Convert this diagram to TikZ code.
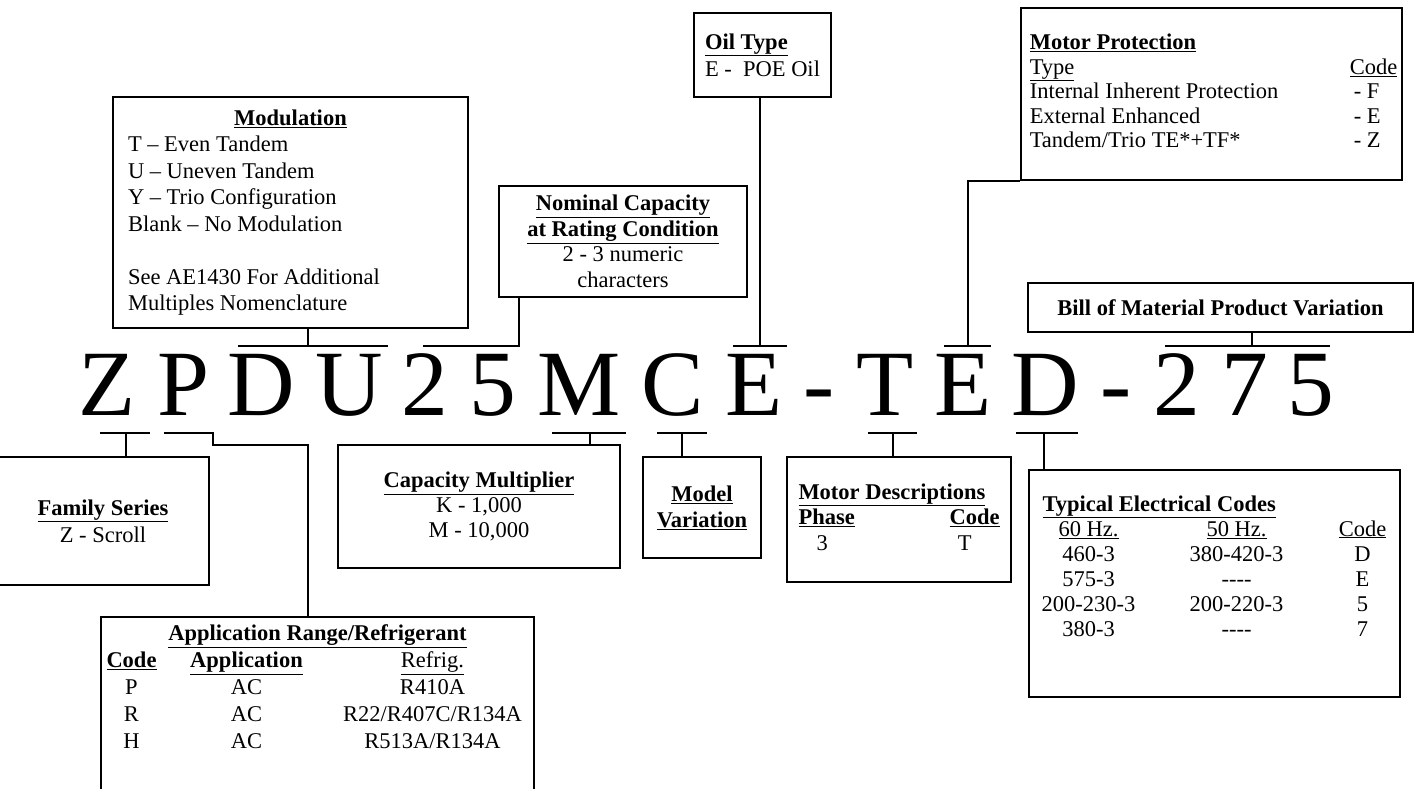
\documentclass[tikz,border=0pt]{standalone}
\usepackage{fontspec}
\setmainfont{Liberation Serif}
\usepackage{array}
\usetikzlibrary{calc}

\newcolumntype{C}[1]{>{\centering\arraybackslash}p{#1}}
\newcommand{\hd}[1]{\textbf{\underline{#1}}}
\newcommand{\und}[1]{\underline{#1}}

\tikzset{
	box/.style={draw,line width=1.6pt,inner sep=0pt,
		font=\fontsize{22.5}{26}\selectfont},
	bigchar/.style={inner sep=0pt,anchor=base,
		font=\fontsize{93.5}{100}\selectfont},
	link/.style={line width=1.5pt}
}

\begin{document}
\begin{tikzpicture}[x=1pt,y=-1pt]
	
	\useasboundingbox (0,0) rectangle (1417,789);
	
	% --- model number ---
	\foreach \ch/\xc [count=\i] in {Z/107,P/183,D/261,U/349,2/425,5/493,M/579,C/673,
		E/754,-/819,T/885,E/963,D/1045,-/1116,2/1177,7/1245,5/1311}
	\node[bigchar] (c\i) at (\xc,415) {\ch};
	
	% --- boxes above ---
	\node[box,minimum width=355pt,minimum height=231pt,text width=325pt,align=flush left,
	font=\fontsize{22.5}{26.5}\selectfont] (modul) at (290.5,212.5)
	{\makebox[325pt]{\hd{Modulation}}\\
		T – Even Tandem\\
		U – Uneven Tandem\\
		Y – Trio Configuration\\
		Blank – No Modulation\\[26.5pt]
		See AE1430 For Additional\\
		Multiples Nomenclature};
	
	\node[box,minimum width=248pt,minimum height=111pt,align=center,
	font=\fontsize{22.5}{25.5}\selectfont] (nomcap) at (623,241.5)
	{\hd{Nominal Capacity}\\ \hd{at Rating Condition}\\ 2 - 3 numeric\\ characters};
	
	\node[box,minimum width=137pt,minimum height=84pt,align=flush left,
	font=\fontsize{22.5}{27}\selectfont] (oil) at (762.5,55)
	{\hd{Oil Type}\\ E -\ \ POE Oil};
	
	\node[box,minimum width=381pt,minimum height=172pt,
	font=\fontsize{22.5}{24.5}\selectfont] (motprot) at (1211.5,94)
	{\begin{tabular}{@{\hspace{8pt}}p{320pt}@{}l@{\hspace{4pt}}}
			\multicolumn{2}{@{\hspace{8pt}}l@{}}{\hd{Motor Protection}}\\
			\und{Type} & \und{Code}\\
			Internal Inherent Protection & \hspace{4pt}- F\\
			External Enhanced & \hspace{4pt}- E\\
			Tandem/Trio TE*+TF* & \hspace{4pt}- Z
	\end{tabular}};
	
	\node[box,minimum width=385pt,minimum height=49pt] (bom) at (1220.5,307.5)
	{\textbf{Bill of Material Product Variation}};
	
	% --- boxes below ---
	\node[box,minimum width=212pt,minimum height=128pt,align=center,
	font=\fontsize{22.5}{27}\selectfont] (family) at (103,521)
	{\hd{Family Series}\\ Z - Scroll};
	
	\node[box,minimum width=282pt,minimum height=123pt,align=center,
	font=\fontsize{22.5}{25}\selectfont] (capmult) at (479,506.5)
	{\hd{Capacity Multiplier}\\ K - 1,000\\ M - 10,000};
	
	\node[box,minimum width=118pt,minimum height=101pt,align=center] (modvar) at (702,507.5)
	{\hd{Model}\\ \hd{Variation}};
	
	\node[box,minimum width=224pt,minimum height=125pt,
	font=\fontsize{22.5}{25.5}\selectfont] (motdesc) at (899,519.5)
	{\begin{tabular*}{201pt}{@{}l@{\extracolsep{\fill}}r@{}}
			\multicolumn{2}{@{}l@{}}{\hd{Motor Descriptions}}\\
			\hd{Phase} & \hd{Code}\\
			\hspace{18pt}3 & T\hspace{28pt}
	\end{tabular*}};
	
	\node[box,minimum width=371pt,minimum height=227pt,
	font=\fontsize{22.5}{25}\selectfont] (elec) at (1214.5,583.5)
	{\begin{tabular}{@{}C{100pt}@{}C{196pt}@{}C{56pt}@{}}
			\multicolumn{3}{@{}l@{}}{\hspace{4pt}\hd{Typical Electrical Codes}}\\
			\und{60 Hz.} & \und{50 Hz.} & \und{Code}\\
			460-3 & 380-420-3 & D\\
			575-3 & {-}{-}{-}{-} & E\\
			200-230-3 & 200-220-3 & 5\\
			380-3 & {-}{-}{-}{-} & 7\\[30pt]
	\end{tabular}};
	
	\node[box,minimum width=433pt,anchor=north,inner ysep=5pt,
	font=\fontsize{22.5}{27}\selectfont] (appl) at (317.5,616)
	{\begin{tabular}{@{}C{58pt}@{}C{172pt}@{}C{200pt}@{}}
			\multicolumn{3}{@{}c@{}}{\hd{Application Range/Refrigerant}}\\
			\hd{Code} & \hd{Application} & \und{Refrig.}\\
			P & AC & R410A\\
			R & AC & R22/R407C/R134A\\
			H & AC & R513A/R134A\\[80pt]
	\end{tabular}};
	
	% --- brackets above the letters ---
	\coordinate (modL) at (238,346);
	\coordinate (modR) at (388,346);
	\coordinate (modT) at (308,346);
	\draw[link] (modL) -- (modR);
	\draw[link] (modT) -- (modT |- modul.south);
	
	\coordinate (nomL) at (423,346);
	\coordinate (nomR) at (519,346);
	\draw[link] (nomL) -- (nomR) -- (nomR |- nomcap.south);
	
	\coordinate (oilL) at (733,346);
	\coordinate (oilR) at (787,346);
	\coordinate (oilT) at (760,346);
	\draw[link] (oilL) -- (oilR);
	\draw[link] (oilT) -- (oilT |- oil.south);
	
	\coordinate (mpL) at (944,346);
	\coordinate (mpR) at (991,346);
	\coordinate (mpT) at (968,346);
	\draw[link] (mpL) -- (mpR);
	\draw[link] (mpT) -- (mpT |- motprot.south) -- (motprot.south west);
	
	\coordinate (bomL) at (1165,346);
	\coordinate (bomR) at (1330,346);
	\coordinate (bomT) at (1252,346);
	\draw[link] (bomL) -- (bomR);
	\draw[link] (bomT) -- (bomT |- bom.south);
	
	% --- brackets below the letters ---
	\foreach \a/\b/\t/\n [count=\k] in {100/150/126/family,552/626/590/capmult,
		657/707/682/modvar,868/917/893/motdesc,1016/1078/1044/elec}{
		\coordinate (bl\k) at (\a,433);
		\coordinate (br\k) at (\b,433);
		\coordinate (bt\k) at (\t,433);
		\draw[link] (bl\k) -- (br\k);
		\draw[link] (bt\k) -- (bt\k |- \n.north);
	}
	
	% refrigerant: stepped lead
	\coordinate (appL) at (164,433);
	\coordinate (appR) at (213,433);
	\coordinate (appK) at (308,445);
	\draw[link] (appL) -- (appR) -- (appR |- appK) -- (appK) -- (appK |- appl.north);
	
\end{tikzpicture}
\end{document}
